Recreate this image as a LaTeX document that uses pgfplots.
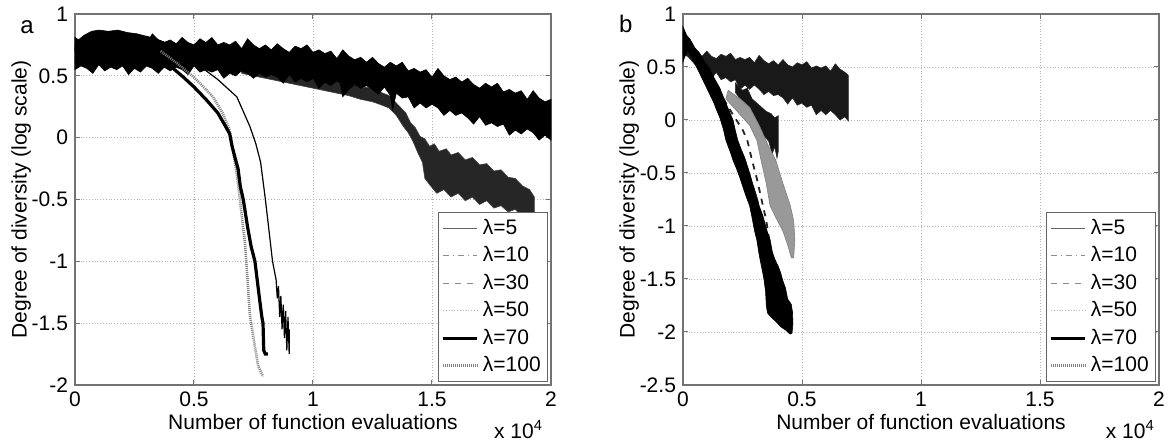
\documentclass[border=0pt]{standalone}
\usepackage{fontspec}
\setmainfont{Liberation Sans}
\usepackage{pgfplots}
\pgfplotsset{compat=1.18}

\pgfplotsset{
  matfig/.style={
    scale only axis, width=238pt, height=185.5pt,
    xmin=0, xmax=2, xtick={0,0.5,1,1.5,2},
    clip=false,
    grid=major, grid style={densely dotted, black!30, line width=0.4pt},
    axis line style={black!55, line width=0.6pt},
    tick style={black!55, line width=0.5pt},
    tick align=inside, major tick length=2.5pt,
    /pgf/number format/assume math mode=true,
    xlabel={Number of function evaluations},
    ylabel={Degree of diversity (log scale)},
    xlabel style={at={(axis description cs:0.5,-0.101)}, anchor=center},
    ylabel style={at={(axis description cs:-0.113,0.5)}, anchor=center},
    legend style={at={(0.994,0.008)}, anchor=south east, draw=black!60,
      fill=white, inner sep=1.5pt, row sep=0.6pt, cells={anchor=west}},
  },
  lam5/.style={black!60, line width=0.4pt},
  lam10/.style={black!45, line width=0.4pt, dash dot},
  lam30/.style={black!45, line width=0.4pt, dashed},
  lam50/.style={black!30, line width=0.4pt, densely dotted},
  lam70/.style={black, line width=1.6pt},
  lam100/.style={black!50, line width=1.3pt, dash pattern=on 0.5pt off 0.5pt},
}

\begin{document}
\begin{tikzpicture}[font=\fontsize{10.5}{12.6}\selectfont]

% ---------------- (a) ----------------
\begin{axis}[matfig, at={(37.5pt,29pt)}, ymin=-2, ymax=1,
  ytick={-2,-1.5,-1,-0.5,0,0.5,1}]
% lambda=30 band (leaves the main band at about 1.4e4)
\addplot[forget plot, fill=black!85, draw=black!75, line width=0.3pt] coordinates {
(0.70,0.62)(0.80,0.58)(0.90,0.55)(1.00,0.51)(1.05,0.50)(1.10,0.46)(1.15,0.45)(1.20,0.41)
(1.25,0.40)(1.28,0.37)(1.32,0.34)(1.35,0.28)(1.37,0.24)(1.39,0.20)(1.41,0.12)(1.43,0.08)
(1.45,0.01)(1.47,-0.01)(1.49,-0.07)(1.51,-0.05)(1.53,-0.11)(1.56,-0.09)(1.58,-0.14)
(1.61,-0.12)(1.64,-0.18)(1.67,-0.16)(1.70,-0.22)(1.73,-0.21)(1.76,-0.27)(1.79,-0.26)
(1.82,-0.32)(1.85,-0.33)(1.88,-0.39)(1.91,-0.42)(1.93,-0.48)
(1.93,-0.67)(1.91,-0.62)(1.88,-0.64)(1.85,-0.58)(1.82,-0.60)(1.79,-0.55)(1.76,-0.57)
(1.73,-0.51)(1.70,-0.54)(1.67,-0.48)(1.64,-0.51)(1.61,-0.45)(1.58,-0.48)(1.55,-0.42)
(1.52,-0.45)(1.49,-0.38)(1.47,-0.33)(1.46,-0.20)(1.44,-0.12)(1.42,-0.03)(1.40,0.04)
(1.38,0.09)(1.35,0.18)(1.32,0.24)(1.28,0.27)(1.25,0.29)(1.20,0.31)(1.15,0.34)(1.10,0.36)
(1.05,0.38)(1.00,0.40)(0.90,0.44)(0.80,0.48)(0.70,0.52)} -- cycle;
% lambda=5 / 10 band
\addplot[forget plot, fill=black, draw=black, line width=0.3pt] coordinates {
(0,0.81)(0.025,0.78)(0.05,0.83)(0.075,0.79)(0.1,0.77)(0.125,0.81)(0.15,0.79)(0.175,0.83)
(0.2,0.77)(0.225,0.80)(0.25,0.78)(0.275,0.81)(0.3,0.76)(0.325,0.84)(0.35,0.79)(0.375,0.77)
(0.4,0.79)(0.425,0.76)(0.45,0.81)(0.475,0.77)(0.5,0.75)(0.525,0.80)(0.55,0.77)(0.575,0.81)
(0.6,0.75)(0.625,0.77)(0.65,0.75)(0.675,0.78)(0.7,0.72)(0.725,0.80)(0.75,0.75)(0.775,0.72)
(0.8,0.75)(0.825,0.71)(0.85,0.76)(0.875,0.72)(0.9,0.69)(0.925,0.74)(0.95,0.72)(0.975,0.75)
(1.0,0.69)(1.025,0.71)(1.05,0.68)(1.075,0.70)(1.1,0.64)(1.125,0.71)(1.15,0.66)(1.175,0.63)
(1.2,0.65)(1.225,0.61)(1.25,0.65)(1.275,0.60)(1.3,0.57)(1.325,0.61)(1.35,0.58)(1.375,0.61)
(1.4,0.54)(1.425,0.56)(1.45,0.53)(1.475,0.55)(1.5,0.49)(1.525,0.56)(1.55,0.50)(1.575,0.47)
(1.6,0.49)(1.625,0.45)(1.65,0.48)(1.675,0.43)(1.7,0.40)(1.725,0.44)(1.75,0.41)(1.775,0.44)
(1.8,0.37)(1.825,0.39)(1.85,0.36)(1.875,0.38)(1.9,0.31)(1.925,0.38)(1.95,0.32)(1.975,0.29)
(2.0,0.31)
(2.0,-0.02)(1.975,0.02)(1.95,-0.02)(1.925,0.04)(1.9,0.07)(1.875,0.03)(1.85,0.06)(1.825,0.02)
(1.8,0.11)(1.775,0.09)(1.75,0.12)(1.725,0.10)(1.7,0.17)(1.675,0.11)(1.65,0.16)(1.625,0.20)
(1.6,0.18)(1.575,0.22)(1.55,0.18)(1.525,0.24)(1.5,0.27)(1.475,0.24)(1.45,0.28)(1.425,0.24)
(1.4,0.33)(1.375,0.32)(1.35,0.36)(1.335,0.23)(1.325,0.34)(1.3,0.41)(1.275,0.35)(1.25,0.39)
(1.225,0.42)(1.2,0.40)(1.175,0.43)(1.15,0.39)(1.125,0.33)(1.115,0.44)(1.1,0.46)(1.075,0.42)
(1.05,0.45)(1.025,0.40)(1.0,0.48)(0.975,0.45)(0.95,0.48)(0.925,0.45)(0.9,0.51)(0.875,0.44)
(0.85,0.49)(0.825,0.51)(0.8,0.49)(0.775,0.52)(0.75,0.48)(0.725,0.52)(0.7,0.54)(0.675,0.50)
(0.65,0.52)(0.625,0.48)(0.6,0.55)(0.575,0.53)(0.55,0.55)(0.525,0.53)(0.5,0.58)(0.475,0.51)
(0.45,0.55)(0.425,0.57)(0.4,0.54)(0.375,0.57)(0.35,0.52)(0.325,0.56)(0.3,0.58)(0.275,0.53)
(0.25,0.56)(0.225,0.51)(0.2,0.58)(0.175,0.55)(0.15,0.57)(0.125,0.54)(0.1,0.59)(0.075,0.52)
(0.05,0.56)(0.025,0.58)(0.0,0.55)} -- cycle;
% early hump of the fast runs
\addplot[forget plot, fill=black, draw=black, line width=0.3pt] coordinates {
(0,0.74)(0.02,0.80)(0.04,0.83)(0.07,0.86)(0.10,0.87)(0.14,0.86)(0.18,0.87)(0.22,0.85)
(0.26,0.84)(0.30,0.82)(0.34,0.80)(0.38,0.77)(0.38,0.70)(0,0.70)} -- cycle;
% lambda=50
\addplot[forget plot, black, line width=0.6pt] coordinates {
(0.30,0.82)(0.40,0.72)(0.51,0.60)(0.60,0.47)(0.68,0.33)(0.735,0.09)(0.76,-0.05)
(0.78,-0.20)(0.80,-0.50)(0.815,-0.75)(0.83,-1.00)(0.845,-1.15)(0.85,-1.30)(0.855,-1.20)
(0.86,-1.45)(0.865,-1.28)(0.87,-1.55)(0.875,-1.35)(0.88,-1.62)(0.885,-1.40)(0.89,-1.72)
(0.895,-1.45)(0.90,-1.75)(0.90,-1.55)};
% lambda=100
\addplot[forget plot, lam100] coordinates {
(0.36,0.70)(0.43,0.60)(0.51,0.47)(0.58,0.33)(0.62,0.20)(0.65,0.06)(0.665,-0.12)
(0.68,-0.30)(0.69,-0.45)(0.70,-0.62)(0.714,-0.85)(0.725,-1.15)(0.735,-1.44)
(0.75,-1.62)(0.77,-1.85)(0.79,-1.93)};
% lambda=70
\addplot[forget plot, lam70] coordinates {
(0.30,0.80)(0.36,0.66)(0.40,0.58)(0.455,0.49)(0.50,0.41)(0.55,0.31)(0.60,0.20)
(0.63,0.10)(0.65,0.03)(0.66,-0.07)(0.675,-0.18)(0.685,-0.25)(0.695,-0.40)(0.707,-0.50)
(0.725,-0.72)(0.74,-0.88)(0.756,-1.00)(0.77,-1.22)(0.785,-1.45)(0.79,-1.50)
(0.793,-1.72)(0.80,-1.75)(0.81,-1.75)};
\addlegendimage{lam5}\addlegendentry{λ=5}
\addlegendimage{lam10}\addlegendentry{λ=10}
\addlegendimage{lam30}\addlegendentry{λ=30}
\addlegendimage{lam50}\addlegendentry{λ=50}
\addlegendimage{lam70}\addlegendentry{λ=70}
\addlegendimage{lam100}\addlegendentry{λ=100}
\node[font=\fontsize{12}{14}\selectfont] at (axis description cs:-0.101,0.965) {a};
\node[anchor=base east] at (axis description cs:0.998,-0.143) {x 10\textsuperscript{4}};
\end{axis}

% ---------------- (b) ----------------
\begin{axis}[matfig, at={(341.5pt,29pt)}, ymin=-2.5, ymax=1,
  ytick={-2.5,-2,-1.5,-1,-0.5,0,0.5,1}]
% slow runs
\addplot[forget plot, fill=black!90, draw=black!85, line width=0.3pt] coordinates {
(0,0.82)(0.02,0.72)(0.04,0.66)(0.06,0.64)(0.08,0.60)(0.10,0.65)(0.12,0.60)(0.14,0.58)
(0.16,0.62)(0.18,0.60)(0.20,0.63)(0.22,0.57)(0.24,0.59)(0.26,0.57)(0.28,0.59)(0.30,0.54)
(0.32,0.61)(0.34,0.56)(0.36,0.53)(0.38,0.56)(0.40,0.52)(0.42,0.57)(0.44,0.52)(0.46,0.50)
(0.48,0.54)(0.50,0.52)(0.52,0.55)(0.54,0.49)(0.56,0.51)(0.58,0.49)(0.60,0.51)(0.62,0.46)
(0.64,0.53)(0.66,0.48)(0.68,0.45)(0.695,0.42)
(0.695,-0.01)(0.68,0.03)(0.66,0.00)(0.64,0.05)(0.62,0.09)(0.60,0.05)(0.58,0.09)(0.56,0.05)
(0.54,0.14)(0.52,0.12)(0.50,0.16)(0.48,0.14)(0.46,0.21)(0.44,0.15)(0.42,0.21)(0.40,0.24)
(0.38,0.23)(0.36,0.27)(0.34,0.24)(0.32,0.29)(0.30,0.33)(0.28,0.29)(0.26,0.33)(0.24,0.29)
(0.22,0.38)(0.20,0.36)(0.18,0.40)(0.16,0.38)(0.14,0.45)(0.12,0.39)(0.10,0.45)(0.08,0.48)
(0.06,0.50)(0.04,0.55)(0.02,0.60)(0.0,0.62)} -- cycle;
\addplot[forget plot, fill=black!92, draw=black!85, line width=0.3pt] coordinates {
(0.22,0.35)(0.25,0.28)(0.27,0.30)(0.29,0.20)(0.31,0.16)(0.33,0.12)(0.35,0.08)(0.37,0.06)
(0.385,0.02)(0.40,0.04)(0.40,-0.30)(0.395,-0.36)(0.385,-0.25)(0.375,-0.32)(0.36,-0.20)
(0.34,-0.15)(0.32,-0.10)(0.30,-0.04)(0.28,0.04)(0.26,0.12)(0.24,0.20)(0.22,0.26)} -- cycle;
% gray band
\addplot[forget plot, fill=black!40, draw=black!50, line width=0.3pt] coordinates {
(0.19,0.28)(0.24,0.20)(0.28,0.12)(0.32,-0.05)(0.36,-0.25)(0.39,-0.38)(0.42,-0.60)
(0.45,-0.80)(0.465,-0.95)(0.47,-1.13)(0.465,-1.30)(0.455,-1.30)(0.44,-1.18)(0.42,-1.05)
(0.39,-0.92)(0.366,-0.81)(0.35,-0.60)(0.33,-0.40)(0.31,-0.19)(0.28,-0.05)(0.24,0.05)
(0.20,0.15)(0.18,0.20)} -- cycle;
% dashed run next to the black band
\addplot[forget plot, black!85, line width=0.9pt, dashed] coordinates {
(0.17,0.20)(0.21,0.05)(0.25,-0.09)(0.27,-0.19)(0.29,-0.38)(0.31,-0.55)(0.33,-0.75)
(0.35,-0.95)(0.366,-1.19)};
% fastest runs
\addplot[forget plot, fill=black, draw=black, line width=0.3pt] coordinates {
(0,0.88)(0.015,0.80)(0.03,0.76)(0.05,0.68)(0.07,0.63)(0.09,0.55)(0.11,0.49)(0.13,0.40)
(0.155,0.30)(0.18,0.16)(0.195,0.08)(0.21,0.0)(0.22,-0.10)(0.23,-0.19)(0.245,-0.28)
(0.26,-0.36)(0.28,-0.50)(0.29,-0.58)(0.30,-0.65)(0.315,-0.76)(0.32,-0.81)(0.335,-0.90)
(0.345,-0.98)(0.355,-1.06)(0.366,-1.13)(0.375,-1.24)(0.385,-1.31)(0.40,-1.38)(0.41,-1.44)
(0.42,-1.52)(0.43,-1.58)(0.44,-1.69)(0.455,-1.74)(0.46,-1.81)(0.462,-1.92)(0.458,-2.01)
(0.45,-2.02)(0.43,-1.98)(0.41,-1.95)(0.39,-1.90)(0.37,-1.86)(0.355,-1.82)(0.35,-1.75)
(0.347,-1.62)(0.34,-1.50)(0.335,-1.44)(0.325,-1.33)(0.32,-1.27)(0.31,-1.13)(0.30,-1.04)
(0.29,-0.92)(0.28,-0.81)(0.265,-0.72)(0.25,-0.62)(0.235,-0.52)(0.225,-0.46)(0.21,-0.38)
(0.20,-0.31)(0.19,-0.25)(0.18,-0.19)(0.17,-0.09)(0.155,0.02)(0.14,0.10)(0.13,0.16)
(0.115,0.23)(0.10,0.30)(0.085,0.37)(0.07,0.44)(0.05,0.53)(0.035,0.60)(0.02,0.66)
(0.008,0.60)(0.0,0.55)} -- cycle;
\addlegendimage{lam5}\addlegendentry{λ=5}
\addlegendimage{lam10}\addlegendentry{λ=10}
\addlegendimage{lam30}\addlegendentry{λ=30}
\addlegendimage{lam50}\addlegendentry{λ=50}
\addlegendimage{lam70}\addlegendentry{λ=70}
\addlegendimage{lam100}\addlegendentry{λ=100}
\node[font=\fontsize{12}{14}\selectfont] at (axis description cs:-0.12,0.972) {b};
\node[anchor=base east] at (axis description cs:1.006,-0.143) {x 10\textsuperscript{4}};
\end{axis}

\pgfresetboundingbox
\path[use as bounding box] (0,0) rectangle (584.5pt,221.5pt);
\end{tikzpicture}
\end{document}
